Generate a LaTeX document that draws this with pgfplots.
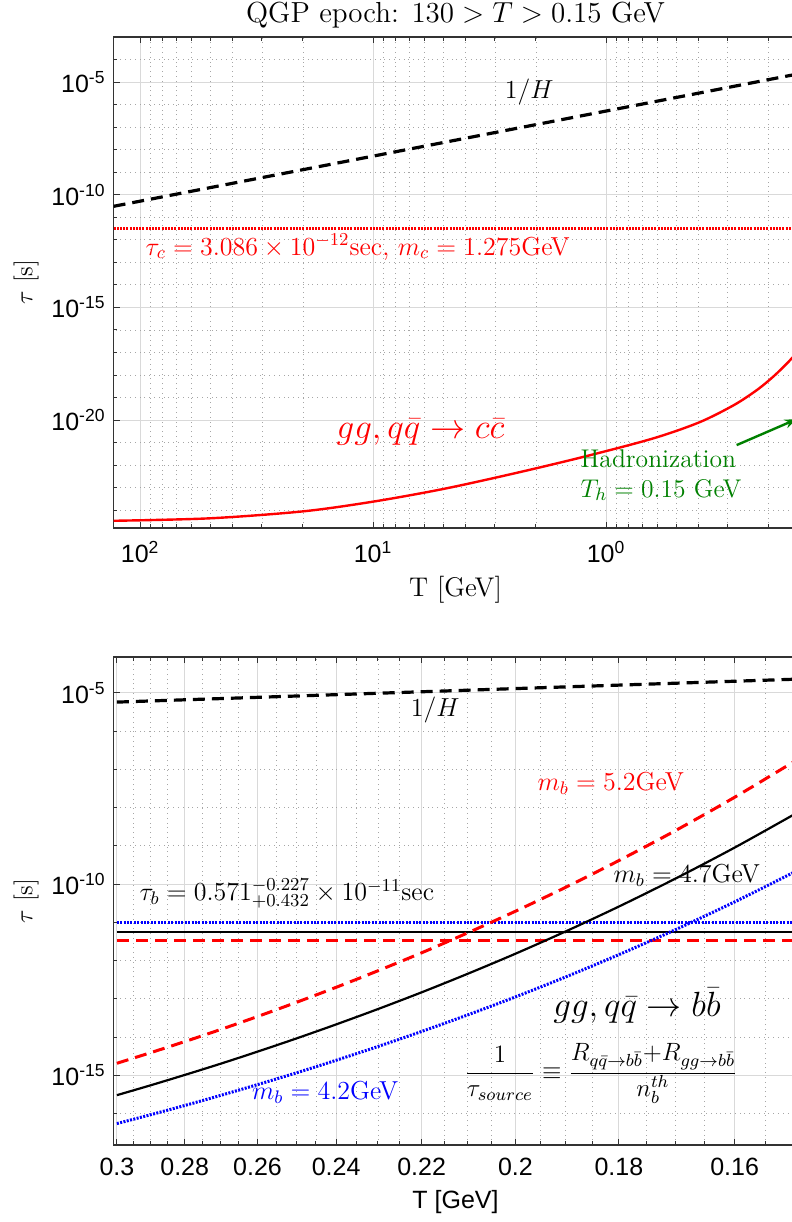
\RequirePackage{fix-cm}
\documentclass[border=0pt]{standalone}
\usepackage{pgfplots}
\pgfplotsset{compat=1.18}
\usepackage{fontspec}
\newfontfamily\hel{Liberation Sans}
\usetikzlibrary{arrows.meta}
\definecolor{mred}{rgb}{1,0,0}
\definecolor{mblue}{rgb}{0,0,1}
\definecolor{mgreen}{rgb}{0,0.5,0}
\pgfplotsset{
  mystyle/.style={
    scale only axis, width=342.2pt,
    tick align=inside,
    axis line style={draw=black!80, line width=0.8pt},
    major tick length=3pt, minor tick length=1.8pt,
    tick style={black!80, line width=0.5pt},
    grid=both,
    major grid style={black!15, line width=0.5pt},
    minor grid style={black!35, dotted, line width=0.4pt},
    ticklabel style={font=\hel\fontsize{12.5}{14}\selectfont},
    xticklabel style={yshift=-3pt},
    yticklabel style={xshift=-0.5pt},
    x dir=reverse,
  }
}
\begin{document}
\begin{tikzpicture}
% ---------------- top panel ----------------
\begin{loglogaxis}[mystyle, at={(56.8pt,-264pt)}, anchor=south west, height=245.5pt,
  xmin=0.15, xmax=130, ymin=1.62e-25, ymax=1e-3,
  xtick={1,10,100},
  xticklabels={10\textsuperscript{0},10\textsuperscript{1},10\textsuperscript{2}},
  minor xtick={0.2,0.3,0.4,0.5,0.6,0.7,0.8,0.9,2,3,4,5,6,7,8,9,20,30,40,50,60,70,80,90},
  ytick={1e-20,1e-15,1e-10,1e-5},
  yticklabels={10\textsuperscript{-20},10\textsuperscript{-15},10\textsuperscript{-10},10\textsuperscript{-5}},
  minor ytick={1e-24,1e-23,1e-22,1e-21,1e-19,1e-18,1e-17,1e-16,1e-14,1e-13,1e-12,1e-11,1e-9,1e-8,1e-7,1e-6,1e-4},
]
\addplot[black, line width=1.6pt, dash pattern=on 6pt off 3.5pt] coordinates {(130,3.07e-11) (10,5.18e-9) (1,5.18e-7) (0.15,2.30e-5)};
\addplot[mred, line width=1.4pt, dash pattern=on 1pt off 0.6pt] coordinates {(130,3.086e-12) (0.15,3.086e-12)};
\addplot[mred, line width=1.2pt, smooth] coordinates {
(130,3.39e-25) (50.1,4.37e-25) (19.95,8.91e-25) (10,2.40e-24) (5.01,8.71e-24)
(2.51,4.17e-23) (1.259,2.29e-22) (0.631,1.51e-21) (0.398,7.94e-21) (0.282,4.68e-20)
(0.224,2.24e-19) (0.1905,8.91e-19) (0.166,3.55e-18) (0.150,1.12e-17)};
\node[font=\fontsize{13}{15}\selectfont] at (axis cs:2.14,3.63e-6) {$1/H$};
\node[mred, anchor=west, inner xsep=0pt, font=\fontsize{13}{15}\selectfont] at (axis cs:95,4.79e-13) {$\tau_c=3.086\times10^{-12}$sec, $m_c=1.275$GeV};
\node[mred, font=\fontsize{17.5}{20}\selectfont] at (axis cs:6.26,2.95e-21) {$gg,q\bar q\rightarrow c\bar c$};
\node[mgreen, anchor=west, inner xsep=0pt, align=left, font=\fontsize{12.8}{15}\selectfont] at (axis cs:1.29,3.6e-23) {Hadronization\\$T_h=0.15$ GeV};
\draw[mgreen, line width=1.2pt, -{Stealth[length=6pt]}] (axis cs:0.275,7.76e-22) -- (axis cs:0.152,1.1e-20);
\end{loglogaxis}
% ---------------- bottom panel ----------------
\begin{loglogaxis}[mystyle, at={(56.8pt,-572.5pt)}, anchor=south west, height=244pt,
  xmin=0.15, xmax=0.301, ymin=1.5e-17, ymax=8.7e-5,
  xtick={0.16,0.18,0.2,0.22,0.24,0.26,0.28,0.3},
  xticklabels={0.16,0.18,0.2,0.22,0.24,0.26,0.28,0.3},
  minor xtick={0.155,0.165,0.17,0.175,0.185,0.19,0.195,0.205,0.21,0.215,0.225,0.23,0.235,0.245,0.25,0.255,0.265,0.27,0.275,0.285,0.29,0.295},
  ytick={1e-15,1e-10,1e-5},
  yticklabels={10\textsuperscript{-15},10\textsuperscript{-10},10\textsuperscript{-5}},
  minor ytick={1e-16,1e-14,1e-13,1e-12,1e-11,1e-9,1e-8,1e-7,1e-6},
]
\addplot[black, line width=1.6pt, dash pattern=on 6pt off 3.5pt] coordinates {(0.3,5.76e-6) (0.2,1.30e-5) (0.15,2.30e-5)};
\addplot[mblue, line width=1.5pt, dash pattern=on 1pt off 0.7pt] coordinates {(0.3,1.003e-11) (0.15,1.003e-11)};
\addplot[black, line width=1.1pt] coordinates {(0.3,5.71e-12) (0.15,5.71e-12)};
\addplot[mred, line width=1.5pt, dash pattern=on 6pt off 3.5pt] coordinates {(0.3,3.44e-12) (0.15,3.44e-12)};
% m_b = 5.2 GeV
\addplot[mred, line width=1.5pt, dash pattern=on 6pt off 3.5pt, smooth] coordinates {
(0.30,2.06e-15) (0.29,3.87e-15) (0.28,7.60e-15) (0.27,1.57e-14) (0.26,3.44e-14)
(0.25,8.02e-14) (0.24,2.00e-13) (0.23,5.42e-13) (0.22,1.60e-12) (0.21,5.27e-12)
(0.20,1.95e-11) (0.19,8.28e-11) (0.18,4.13e-10) (0.17,2.48e-9) (0.16,1.87e-8) (0.15,1.85e-7)};
% m_b = 4.7 GeV
\addplot[black, line width=1.1pt, smooth] coordinates {
(0.30,3.02e-16) (0.29,5.43e-16) (0.28,1.02e-15) (0.27,2.00e-15) (0.26,4.15e-15)
(0.25,9.12e-15) (0.24,2.14e-14) (0.23,5.40e-14) (0.22,1.48e-13) (0.21,4.48e-13)
(0.20,1.51e-12) (0.19,5.81e-12) (0.18,2.59e-11) (0.17,1.38e-10) (0.16,9.02e-10) (0.15,7.59e-9)};
% m_b = 4.2 GeV
\addplot[mblue, line width=1.5pt, dash pattern=on 1pt off 0.7pt, smooth] coordinates {
(0.30,5.46e-17) (0.29,9.23e-17) (0.28,1.62e-16) (0.27,2.97e-16) (0.26,5.70e-16)
(0.25,1.15e-15) (0.24,2.47e-15) (0.23,5.66e-15) (0.22,1.40e-14) (0.21,3.77e-14)
(0.20,1.12e-13) (0.19,3.74e-13) (0.18,1.43e-12) (0.17,6.37e-12) (0.16,3.43e-11) (0.15,2.31e-10)};
\node[font=\fontsize{13}{15}\selectfont] at (axis cs:0.217,3.59e-6) {$1/H$};
\node[mred, font=\fontsize{13}{15}\selectfont] at (axis cs:0.1815,4.37e-8) {$m_b=5.2$GeV};
\node[black, font=\fontsize{13}{15}\selectfont] at (axis cs:0.168,1.74e-10) {$m_b=4.7$GeV};
\node[anchor=west, inner xsep=0pt, font=\fontsize{13}{15}\selectfont] at (axis cs:0.2933,5.75e-11) {$\tau_b=0.571^{-0.227}_{+0.432}\times10^{-11}$sec};
\node[font=\fontsize{17.5}{20}\selectfont] at (axis cs:0.1767,6.76e-14) {$gg,q\bar q\rightarrow b\bar b$};
\node[font=\fontsize{12.5}{15}\selectfont] at (axis cs:0.1833,1.12e-15) {$\displaystyle\frac{1}{\tau_{source}}\equiv\frac{R_{q\bar q\to b\bar b}{+}R_{gg\to b\bar b}}{n_b^{th}}$};
\node[mblue, font=\fontsize{13}{15}\selectfont] at (axis cs:0.2427,3.55e-16) {$m_b=4.2$GeV};
\end{loglogaxis}
% ---------------- titles and labels ----------------
\node[font=\fontsize{14.5}{16}\selectfont] at (227.75pt,-7.5pt) {QGP epoch: $130>T>0.15$ GeV};
\node[rotate=90, font=\fontsize{12.5}{14}\selectfont] at (13pt,-141pt) {$\tau$ [s]};
\node[rotate=90, font=\fontsize{12.5}{14}\selectfont] at (13pt,-450.5pt) {$\tau$ [s]};
\node[font=\fontsize{13.5}{15}\selectfont] at (227.75pt,-295pt) {T [GeV]};
\node[font=\hel\fontsize{12.5}{14}\selectfont] at (227.75pt,-601pt) {T [GeV]};
\pgfresetboundingbox
\path[use as bounding box] (0,0) rectangle (396pt,-611pt);
\end{tikzpicture}
\end{document}
